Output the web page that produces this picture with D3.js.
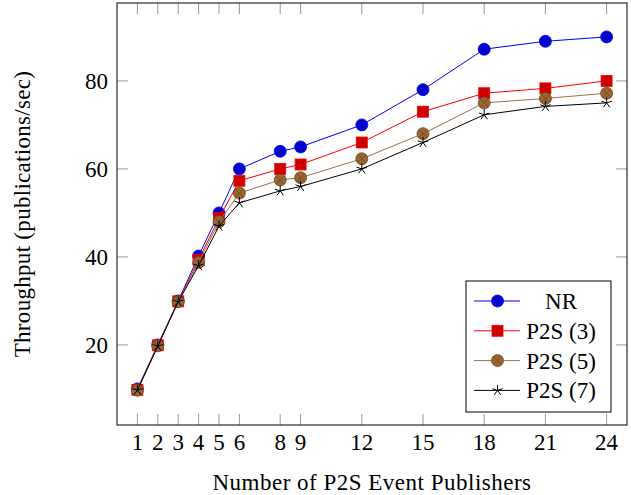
<!DOCTYPE html>
<html>
<head>
<meta charset="utf-8">
<script src="https://cdn.jsdelivr.net/npm/d3@7"></script>
<style>
  body { margin: 0; background: #fff; }
</style>
</head>
<body>
<svg id="chart" width="631" height="495"></svg>
<script>
const publishers = [1, 2, 3, 4, 5, 6, 8, 9, 12, 15, 18, 21, 24];
const nr   = [10, 20, 30, 40.2, 50, 60, 64, 65, 70, 78, 87.2, 89, 90];
const p2s3 = [9.8, 19.9, 29.9, 39.3, 48.8, 57.3, 60, 61, 66, 73, 77.2, 78.3, 80];
const p2s5 = [9.7, 19.8, 29.8, 38.7, 48, 54.5, 57.5, 58, 62.3, 68, 75, 76, 77.2];
const p2s7 = [9.7, 19.7, 29.8, 38, 47, 52.3, 55, 56, 60, 66, 72.3, 74.2, 75];
const yTicks = [20, 40, 60, 80];
const seriesNames = ["NR", "P2S (3)", "P2S (5)", "P2S (7)"];

const series = [
  { name: seriesNames[0], values: nr,   line: "#0000ff", fill: "#0000cc", mark: "circle" },
  { name: seriesNames[1], values: p2s3, line: "#ff0000", fill: "#cc0000", mark: "square" },
  { name: seriesNames[2], values: p2s5, line: "#9a7250", fill: "#996633", mark: "otimes" },
  { name: seriesNames[3], values: p2s7, line: "#000000", fill: "#000000", mark: "star" }
];

const fontSize = 23;
const svg = d3.select("#chart")
  .attr("font-family", "'Liberation Serif', 'Times New Roman', Times, serif");
const plot = { left: 117, right: 627, top: 3, bottom: 425 };

const x = d3.scaleLinear().domain([0, 25]).range([plot.left, plot.right]);
const y = d3.scaleLinear().domain([1.8, 97.7]).range([plot.bottom, plot.top]);

// ticks (inward, mirrored)
const tickLen = 11;
const ticks = svg.append("g").attr("stroke", "#999").attr("stroke-width", 1);
publishers.forEach(p => {
  ticks.append("line").attr("x1", x(p)).attr("x2", x(p)).attr("y1", plot.bottom).attr("y2", plot.bottom - tickLen);
  ticks.append("line").attr("x1", x(p)).attr("x2", x(p)).attr("y1", plot.top).attr("y2", plot.top + tickLen);
});
yTicks.forEach(t => {
  ticks.append("line").attr("x1", plot.left).attr("x2", plot.left + tickLen).attr("y1", y(t)).attr("y2", y(t));
  ticks.append("line").attr("x1", plot.right).attr("x2", plot.right - tickLen).attr("y1", y(t)).attr("y2", y(t));
});

svg.append("rect")
  .attr("x", plot.left).attr("y", plot.top)
  .attr("width", plot.right - plot.left).attr("height", plot.bottom - plot.top)
  .attr("fill", "none").attr("stroke", "#000").attr("stroke-width", 1);

// tick labels
svg.append("g").selectAll("text").data(publishers).join("text")
  .attr("x", d => x(d)).attr("y", plot.bottom + 25)
  .attr("text-anchor", "middle").attr("font-size", fontSize)
  .text(d => d);

svg.append("g").selectAll("text").data(yTicks).join("text")
  .attr("x", plot.left - 9).attr("y", d => y(d) + 8)
  .attr("text-anchor", "end").attr("font-size", fontSize)
  .text(d => d);

// axis titles
svg.append("text")
  .attr("x", (plot.left + plot.right) / 2).attr("y", 490)
  .attr("text-anchor", "middle").attr("font-size", fontSize)
  .attr("letter-spacing", 0.5)
  .text("Number of P2S Event Publishers");

svg.append("text")
  .attr("transform", `translate(30,${(plot.top + plot.bottom) / 2}) rotate(-90)`)
  .attr("text-anchor", "middle").attr("font-size", fontSize)
  .attr("letter-spacing", 0.3)
  .text("Throughput (publications/sec)");

function drawMark(g, s, cx, cy) {
  if (s.mark === "circle") {
    g.append("circle").attr("cx", cx).attr("cy", cy).attr("r", 6)
      .attr("fill", s.fill).attr("stroke", s.line).attr("stroke-width", 0.8);
  } else if (s.mark === "square") {
    g.append("rect").attr("x", cx - 5.5).attr("y", cy - 5.5).attr("width", 11).attr("height", 11)
      .attr("fill", s.fill).attr("stroke", s.line).attr("stroke-width", 0.8);
  } else if (s.mark === "otimes") {
    const r = 6, k = r * Math.SQRT1_2;
    g.append("circle").attr("cx", cx).attr("cy", cy).attr("r", r)
      .attr("fill", s.fill).attr("stroke", "#6b4520").attr("stroke-width", 0.8);
    g.append("path")
      .attr("d", `M${cx - k},${cy - k}L${cx + k},${cy + k}M${cx - k},${cy + k}L${cx + k},${cy - k}`)
      .attr("stroke", "#6b4520").attr("stroke-width", 0.8);
  } else {
    const r = 5.5;
    let d = "";
    for (let i = 0; i < 5; i++) {
      const a = -Math.PI / 2 + i * 2 * Math.PI / 5;
      d += `M${cx},${cy}L${cx + r * Math.cos(a)},${cy + r * Math.sin(a)}`;
    }
    g.append("path").attr("d", d).attr("stroke", "#000").attr("stroke-width", 1).attr("fill", "none");
  }
}

const line = d3.line().x(d => x(d[0])).y(d => y(d[1]));

series.forEach(s => {
  const pts = publishers.map((p, i) => [p, s.values[i]]);
  const g = svg.append("g");
  g.append("path").datum(pts).attr("d", line)
    .attr("fill", "none").attr("stroke", s.line).attr("stroke-width", 1);
  pts.forEach(p => drawMark(g, s, x(p[0]), y(p[1])));
});

// legend
const lg = svg.append("g");
lg.append("rect").attr("x", 466).attr("y", 281).attr("width", 145).attr("height", 131)
  .attr("fill", "#fff").attr("stroke", "#000").attr("stroke-width", 1);
series.forEach((s, i) => {
  const cy = 301 + i * 29.8;
  lg.append("line").attr("x1", 474).attr("x2", 520).attr("y1", cy).attr("y2", cy)
    .attr("stroke", s.line).attr("stroke-width", 1);
  drawMark(lg, s, 497.5, cy);
  lg.append("text").attr("x", 561).attr("y", cy + 8)
    .attr("text-anchor", "middle").attr("font-size", fontSize)
    .text(s.name);
});
</script>
</body>
</html>
